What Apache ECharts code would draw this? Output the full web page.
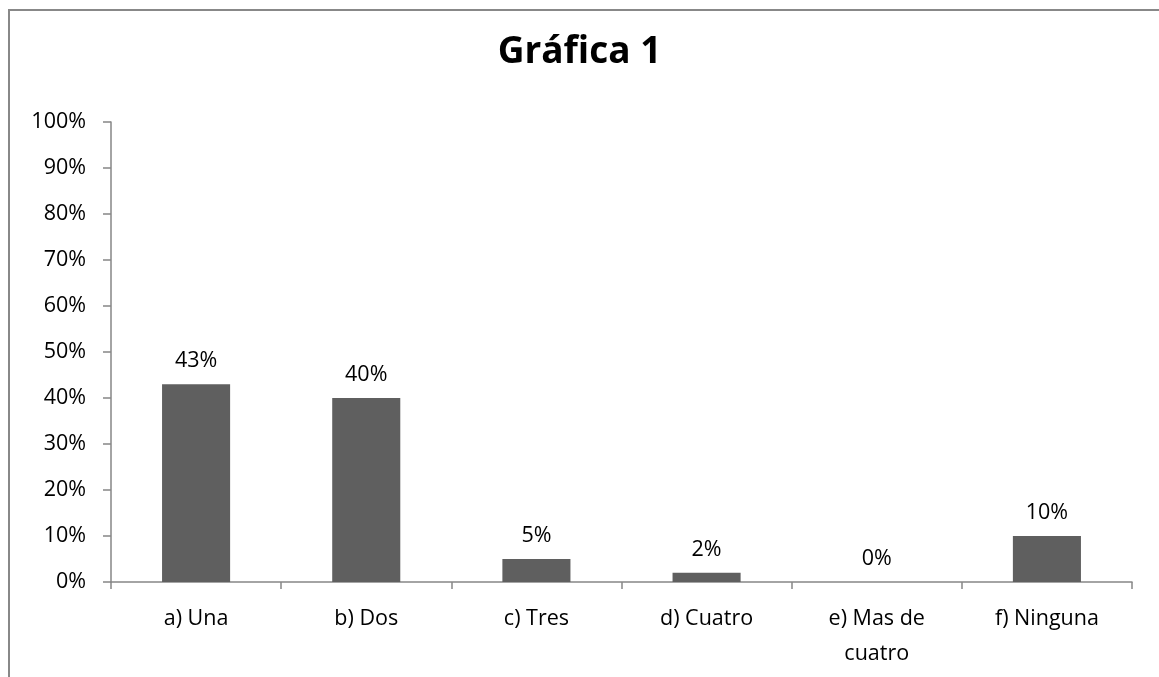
<!DOCTYPE html>
<html>
<head>
<meta charset="utf-8">
<script src="https://cdn.jsdelivr.net/npm/echarts@6/dist/echarts.min.js"></script>
<style>
  html, body { margin: 0; padding: 0; background: #fff; }
  #main { width: 1159px; height: 677px; }
</style>
</head>
<body>
<div id="main"></div>
<script>
const categories = ['a) Una', 'b) Dos', 'c) Tres', 'd) Cuatro', 'e) Mas de\ncuatro', 'f) Ninguna'];
const values = [43, 40, 5, 2, 0, 10];
const yTicks = [0, 10, 20, 30, 40, 50, 60, 70, 80, 90, 100];

const fontFam = '"Open Sans", Lato, sans-serif';
const chart = echarts.init(document.getElementById('main'));

chart.setOption({
  animation: false,
  backgroundColor: '#fff',
  graphic: [{
    type: 'rect',
    shape: { x: 9, y: 10, width: 1160, height: 700 },
    style: { fill: 'none', stroke: '#888', lineWidth: 2 },
    silent: true
  }],
  title: {
    text: 'Gráfica 1',
    left: 'center',
    top: 29,
    textStyle: { fontFamily: fontFam, fontSize: 37, fontWeight: 'bold', color: '#000' }
  },
  grid: { left: 111, right: 27, top: 122, bottom: 95 },
  xAxis: {
    type: 'category',
    data: categories,
    axisLine: { lineStyle: { color: '#868686', width: 1.5 } },
    axisTick: { show: true, length: 7, lineStyle: { color: '#868686', width: 1.5 } },
    axisLabel: { fontFamily: fontFam, fontSize: 21.5, color: '#000', margin: 19, lineHeight: 35 }
  },
  yAxis: {
    type: 'value',
    min: yTicks[0],
    max: yTicks[yTicks.length - 1],
    interval: 10,
    axisLine: { show: true, lineStyle: { color: '#868686', width: 1.5 } },
    axisTick: { show: true, length: 8, lineStyle: { color: '#868686', width: 1.5 } },
    splitLine: { show: false },
    axisLabel: { fontFamily: fontFam, fontSize: 21.5, color: '#000', margin: 25, formatter: '{value}%' }
  },
  series: [{
    type: 'bar',
    data: values,
    barWidth: '40%',
    itemStyle: { color: '#5f5f5f' },
    label: {
      show: true,
      position: 'top',
      distance: 12,
      formatter: '{c}%',
      fontFamily: fontFam,
      fontSize: 21.5,
      color: '#000'
    }
  }]
});
</script>
</body>
</html>
